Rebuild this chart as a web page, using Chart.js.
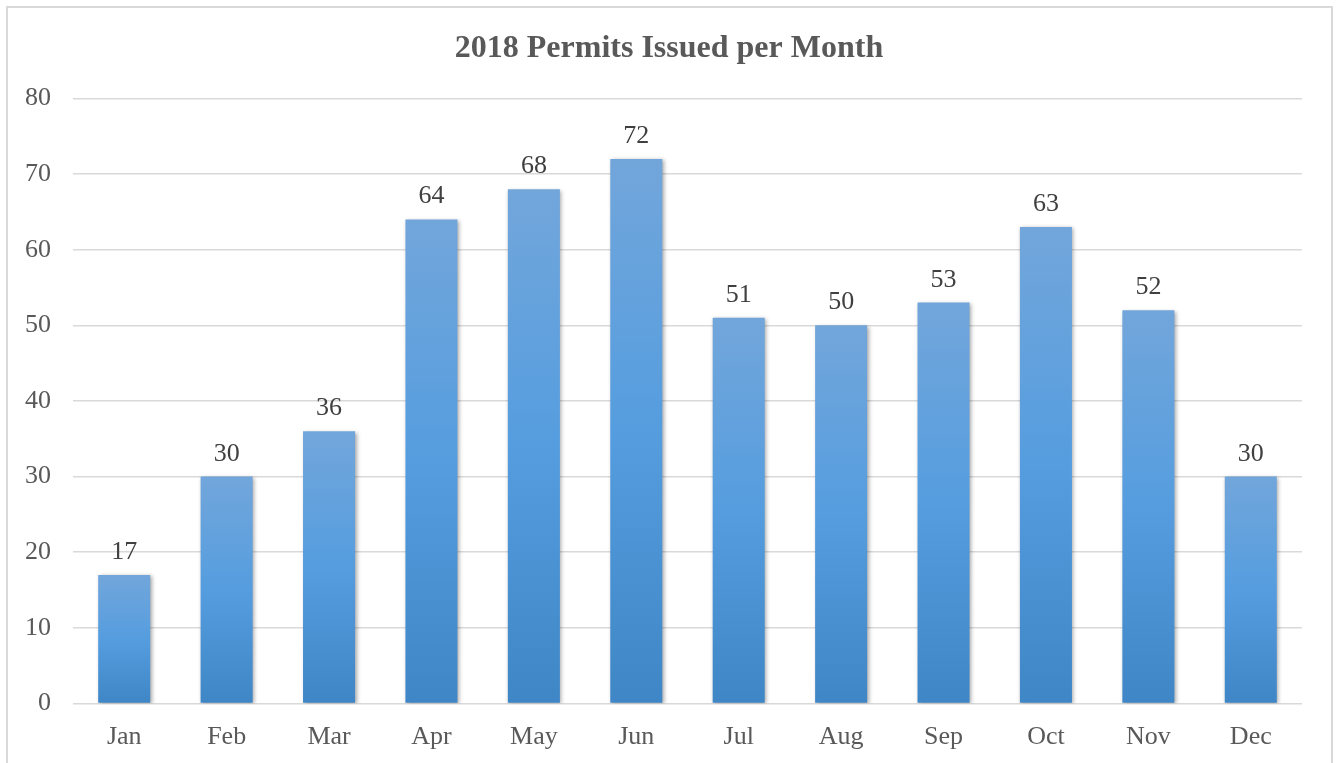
<!DOCTYPE html>
<html>
<head>
<meta charset="utf-8">
<script src="https://cdn.jsdelivr.net/npm/chart.js@4.4.1/dist/chart.umd.min.js"></script>
<style>
  html, body { margin: 0; padding: 0; background: #fff; overflow: hidden; }
  #wrap { position: absolute; left: 0; top: 0; width: 1338px; height: 763px; }
  #frame { position: absolute; left: 6px; top: 6px; width: 1327px; height: 800px; border: 2px solid #d9d9d9; box-sizing: border-box; pointer-events: none; }
  canvas { position: absolute; left: 0; top: 0; }
</style>
</head>
<body>
<div id="wrap">
  <div id="frame"></div>
  <canvas id="c" width="1338" height="763"></canvas>
</div>
<script>
const chartTitle = "2018 Permits Issued per Month";
const months = ["Jan", "Feb", "Mar", "Apr", "May", "Jun", "Jul", "Aug", "Sep", "Oct", "Nov", "Dec"];
const permits = [17, 30, 36, 64, 68, 72, 51, 50, 53, 63, 52, 30];
const yMin = 0;
const yMax = 80;
const yStep = 10;

const FONT = "'Liberation Serif', 'Times New Roman', serif";

const shadowPlugin = {
  id: 'barShadow',
  beforeDatasetsDraw(chart) {
    const ctx = chart.ctx;
    ctx.save();
    ctx.shadowColor = 'rgba(0,0,0,0.35)';
    ctx.shadowBlur = 4;
    ctx.shadowOffsetX = 1.5;
    ctx.shadowOffsetY = 1.5;
  },
  afterDatasetsDraw(chart) {
    chart.ctx.restore();
  }
};

const labelPlugin = {
  id: 'valueLabels',
  afterDatasetsDraw(chart) {
    const ctx = chart.ctx;
    const meta = chart.getDatasetMeta(0);
    ctx.save();
    ctx.font = "26px " + FONT;
    ctx.fillStyle = '#404040';
    ctx.textAlign = 'center';
    ctx.textBaseline = 'alphabetic';
    meta.data.forEach((bar, i) => {
      ctx.fillText(String(chart.data.datasets[0].data[i]), bar.x, bar.y - 16);
    });
    ctx.restore();
  }
};

function barGradient(context) {
  const chart = context.chart;
  if (!chart.chartArea || !chart.scales.y) return '#559bdd';
  const v = context.raw;
  const yTop = chart.scales.y.getPixelForValue(v);
  const yBase = chart.scales.y.getPixelForValue(0);
  if (!isFinite(yTop) || !isFinite(yBase) || yTop === yBase) return '#559bdd';
  const g = chart.ctx.createLinearGradient(0, yTop, 0, yBase);
  g.addColorStop(0, '#72a6db');
  g.addColorStop(0.5, '#559ddf');
  g.addColorStop(1, '#3f86c6');
  return g;
}

new Chart(document.getElementById('c'), {
  type: 'bar',
  data: {
    labels: months,
    datasets: [{
      data: permits,
      backgroundColor: barGradient,
      borderWidth: 0,
      barPercentage: 0.508,
      categoryPercentage: 1.0
    }]
  },
  options: {
    responsive: false,
    animation: false,
    devicePixelRatio: 1,
    layout: { padding: { left: 0, right: 0, top: 0, bottom: 0 } },
    plugins: {
      legend: { display: false },
      tooltip: { enabled: false },
      title: {
        display: true,
        text: chartTitle,
        color: '#595959',
        font: { family: FONT, size: 32, weight: 'bold', lineHeight: 1.2 },
        padding: { top: 30, bottom: 30 }
      }
    },
    scales: {
      x: {
        grid: { display: false, drawTicks: false },
        border: { display: false },
        ticks: { color: '#595959', font: { family: FONT, size: 26, lineHeight: 1.2 }, padding: 18 },
        afterFit(scale) { scale.height = 59.5; }
      },
      y: {
        min: yMin,
        max: yMax,
        grid: { color: '#d9d9d9', lineWidth: 1.5, drawTicks: false },
        border: { display: false },
        ticks: { stepSize: yStep, color: '#595959', font: { family: FONT, size: 26, lineHeight: 1.2 }, padding: 22 },
        afterFit(scale) { scale.width = 73; }
      },
      yRightSpace: {
        position: 'right',
        display: true,
        min: yMin,
        max: yMax,
        grid: { display: false, drawTicks: false },
        border: { display: false },
        ticks: { display: false },
        afterFit(scale) { scale.width = 36; }
      }
    }
  },
  plugins: [shadowPlugin, labelPlugin]
});
</script>
</body>
</html>
